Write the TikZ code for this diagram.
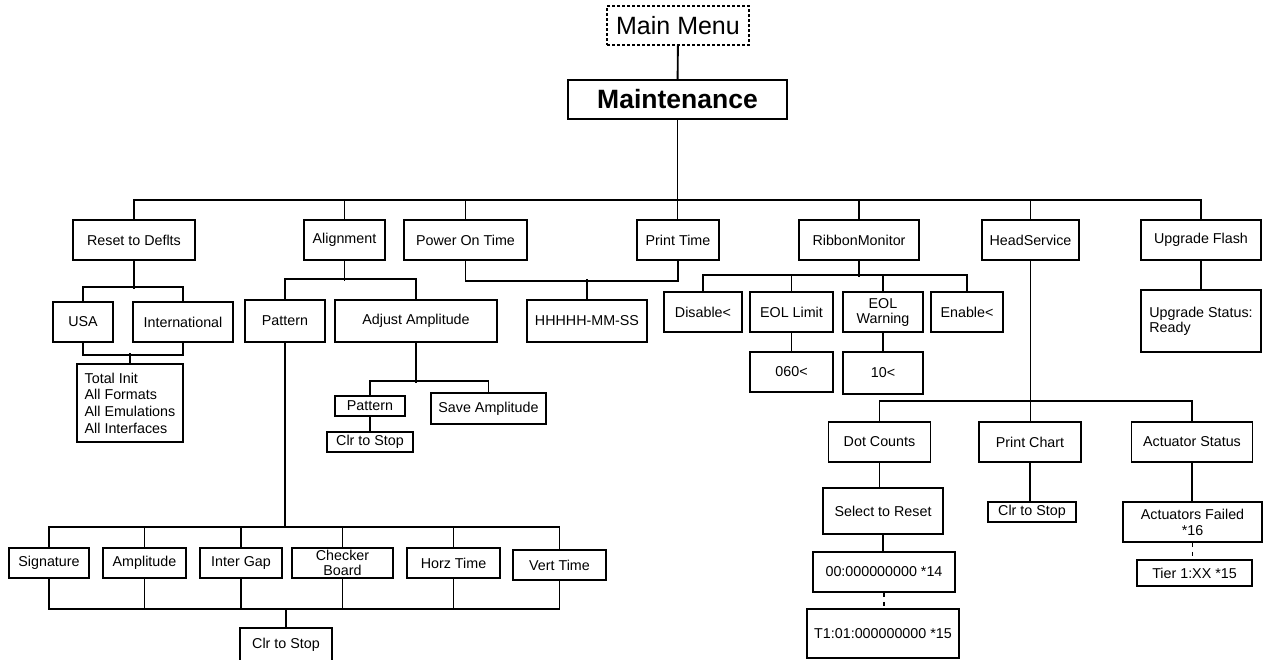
\documentclass[tikz,border=0pt]{standalone}
\usepackage{fontspec}
\setmainfont{Liberation Sans}
\usetikzlibrary{positioning}

\begin{document}
\begin{tikzpicture}[x=1pt, y=-1pt, auto, font=\fontsize{14.3}{16}\selectfont]
        \tikzstyle{block} = [rectangle, draw, line width=1.9pt, inner sep=0pt, text centered]
        \tikzstyle{line} = [draw, line width=1.9pt]
        \tikzstyle{dots} = [draw, line width=1.9pt, dash pattern=on 4pt off 5pt]

        \useasboundingbox (0,0) rectangle (1264,659);
        \clip (0,0) rectangle (1264,659);

        \node [rectangle, draw, line width=1.1pt, dash pattern=on 3pt off 2pt, inner sep=0pt, minimum width=142, minimum height=39, font=\fontsize{25}{28}\selectfont] (mainmenu) at (678,25.5) {Main Menu};
        \node [block, minimum width=219, minimum height=39, font=\fontsize{26.5}{30}\selectfont\bfseries] (maint) at (677.5,99.5) {Maintenance};

        \node [block, minimum width=122, minimum height=40] (reset) at (134,240) {Reset to Deflts};
        \node [block, minimum width=81, minimum height=40] (align) at (344.5,240) {Alignment};
        \node [block, minimum width=123, minimum height=40] (power) at (465.5,240) {Power On Time};
        \node [block, minimum width=82, minimum height=40] (print) at (678,240) {Print Time};
        \node [block, minimum width=120, minimum height=40] (ribbon) at (859,240) {RibbonMonitor};
        \node [block, minimum width=97, minimum height=40] (head) at (1030.5,240) {HeadService};
        \node [block, minimum width=120, minimum height=40] (upgrade) at (1201,240) {Upgrade Flash};

        \node [block, minimum width=60, minimum height=40] (usa) at (83,322) {USA};
        \node [block, minimum width=100, minimum height=40] (intl) at (183,322) {International};
        \node [block, minimum width=106, minimum height=78, align=left, font=\fontsize{14.3}{16.7}\selectfont] (init) at (130,403) {Total Init\\All Formats\\All Emulations\\All Interfaces};

        \node [block, minimum width=80, minimum height=42] (pattern) at (285,321) {Pattern};
        \node [block, minimum width=162, minimum height=42] (adjust) at (416,321) {Adjust Amplitude};
        \node [block, minimum width=70, minimum height=20] (patsm) at (370,406) {Pattern};
        \node [block, minimum width=86, minimum height=20] (clrsm) at (370,442) {Clr to Stop};
        \node [block, minimum width=115, minimum height=31] (saveamp) at (488.5,408.5) {Save Amplitude};

        \node [block, minimum width=120, minimum height=42] (hms) at (587,321) {HHHHH-MM-SS};

        \node [block, minimum width=78, minimum height=40] (disable) at (703,312) {Disable<};
        \node [block, minimum width=83, minimum height=40] (eollim) at (791.5,312) {EOL Limit};
        \node [block, minimum width=80, minimum height=40, align=center, font=\fontsize{14.3}{15}\selectfont] (eolwarn) at (883,312) {EOL\\Warning};
        \node [block, minimum width=72, minimum height=40] (enable) at (967,312) {Enable<};
        \node [block, minimum width=83, minimum height=40] (lim060) at (791.5,372) {060<};
        \node [block, minimum width=80, minimum height=42] (warn10) at (883,373) {10<};

        \node [block, minimum width=120, minimum height=62, align=left, font=\fontsize{14.3}{15}\selectfont] (upstat) at (1201,321) {Upgrade Status:\\Ready};

        \node [block, minimum width=102, minimum height=40] (dotc) at (879.5,442) {Dot Counts};
        \node [block, minimum width=102, minimum height=40] (pchart) at (1030,442) {Print Chart};
        \node [block, minimum width=121, minimum height=40] (actstat) at (1192,442) {Actuator Status};
        \node [block, minimum width=120, minimum height=46] (selreset) at (883,511) {Select to Reset};
        \node [block, minimum width=142, minimum height=40] (cnt14) at (884,572) {00:000000000 *14};
        \node [block, minimum width=152, minimum height=49] (cnt15) at (883,633.5) {T1:01:000000000 *15};
        \node [block, minimum width=88, minimum height=20] (clrpc) at (1032,512) {Clr to Stop};
        \node [block, minimum width=139, minimum height=40, align=center] (actfail) at (1192.5,522) {Actuators Failed\\*16};
        \node [block, minimum width=115, minimum height=26] (tier) at (1194.5,573) {Tier 1:XX *15};

        \node [block, minimum width=80, minimum height=30] (sig) at (49,563) {Signature};
        \node [block, minimum width=83, minimum height=30] (amp) at (144.5,563) {Amplitude};
        \node [block, minimum width=82, minimum height=30] (gap) at (241,563) {Inter Gap};
        \node [block, minimum width=101, minimum height=30, align=center, font=\fontsize{14.3}{15}\selectfont] (checker) at (342.5,563) {Checker\\Board};
        \node [block, minimum width=93, minimum height=30] (horz) at (453.5,563) {Horz Time};
        \node [block, minimum width=93, minimum height=30] (vert) at (559.5,565) {Vert Time};
        \node [block, minimum width=92, minimum height=34] (clrbot) at (286,645) {Clr to Stop};

        \coordinate (b0) at (677,200);
        \path [line] (mainmenu) -- (maint);
        \path [line] (maint.south) -- (maint.south |- print.north);
        \path [line] (reset.north) |- (b0) -| (upgrade.north);
        \foreach \n in {align,power,ribbon,head}
            \path [line] (\n.north) -- (\n.north |- b0);

        \path [line] (reset.south) -- ++(0,28);
        \path [line] (usa.north) -- ++(0,-14) -| (intl.north);
        \path [line] (usa.south) -- ++(0,12) -| (intl.south);
        \path [line] (init.north) -- ++(0,-10);

        \path [line] (align.south) -- ++(0,20);
        \path [line] (pattern.north) -- ++(0,-20) -| (adjust.north);
        \path [line] (adjust.south) -- ++(0,40);
        \path [line] (patsm.north) -- ++(0,-14) -| (saveamp.north);
        \path [line] (patsm) -- (clrsm);

        \path [line] (power.south) -- ++(0,20) -| (print.south);
        \path [line] (hms.north) -- ++(0,-20);

        \path [line] (ribbon.south) -- ++(0,16);
        \path [line] (disable.north) -- ++(0,-16) -| (enable.north);
        \path [line] (eollim.north) -- ++(0,-16);
        \path [line] (eolwarn.north) -- ++(0,-16);
        \path [line] (eollim) -- (lim060);
        \path [line] (eolwarn) -- (warn10);

        \path [line] (upgrade) -- (upstat);

        \path [line] (head.south) -- (head.south |- pchart.north);
        \path [line] (dotc.north) -- ++(0,-20) -| (actstat.north);
        \path [line] (dotc.south) -- (dotc.south |- selreset.north);
        \path [line] (selreset.south) -- (selreset.south |- cnt14.north);
        \path [dots] (cnt14.south) -- (cnt14.south |- cnt15.north);
        \path [line] (pchart.south) -- (pchart.south |- clrpc.north);
        \path [line] (actstat.south) -- (actstat.south |- actfail.north);
        \path [dots] (actfail.south) -- (actfail.south |- tier.north);

        \path [line] (sig.north) -- ++(0,-20) coordinate (pbus) -| (vert.north);
        \foreach \n in {amp,gap,checker,horz}
            \path [line] (\n.north) -- (\n.north |- pbus);
        \path [line] (pattern.south) -- (pattern.south |- pbus);
        \path [line] (sig.south) -- ++(0,30) coordinate (qbus) -| (vert.south);
        \foreach \n in {amp,gap,checker,horz}
            \path [line] (\n.south) -- (\n.south |- qbus);
        \path [line] (clrbot.north) -- (clrbot.north |- qbus);
    \end{tikzpicture}
\end{document}
